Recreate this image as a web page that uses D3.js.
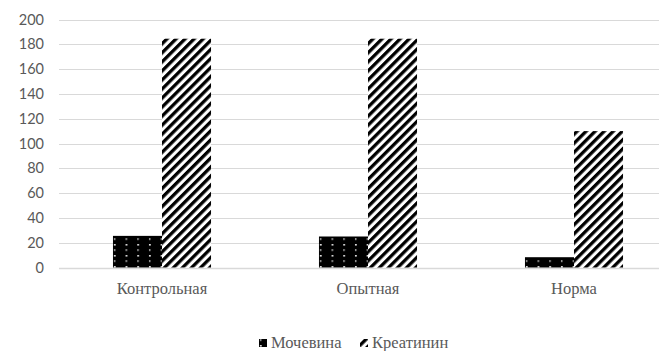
<!DOCTYPE html>
<html>
<head>
<meta charset="utf-8">
<script src="https://cdn.jsdelivr.net/npm/d3@7/dist/d3.min.js"></script>
<style>
  html, body { margin: 0; padding: 0; background: #fff; }
  svg { display: block; }
  .serif-label { font-family: Liberation Serif, Times New Roman, serif; }
  .sans-label { font-family: Lato, Open Sans, sans-serif; }
</style>
</head>
<body>
<svg id="chart" width="659" height="351"></svg>
<script>
// Data
const categories = ["Контрольная", "Опытная", "Норма"];
const seriesNames = ["Мочевина", "Креатинин"];
const urea = [25.5, 25, 8.3];
const creatinine = [184.5, 184.5, 110];
const yTicks = [0, 20, 40, 60, 80, 100, 120, 140, 160, 180, 200];

const svg = d3.select("#chart");
const plot = { left: 59, right: 677, top: 19.5, bottom: 267.5 };

// Fill patterns
const defs = svg.append("defs");
const dots = defs.append("pattern")
  .attr("id", "pat-dots").attr("patternUnits", "userSpaceOnUse")
  .attr("x", 113).attr("y", 0)
  .attr("width", 11.7).attr("height", 11);
dots.append("rect").attr("width", 11.7).attr("height", 11).attr("fill", "#000");
dots.append("rect").attr("x", 5).attr("y", 2).attr("width", 1.6).attr("height", 1.6).attr("fill", "#fff");
dots.append("rect").attr("x", 5.2).attr("y", 7).attr("width", 1).attr("height", 2.2).attr("fill", "#ddd");

const stripes = defs.append("pattern")
  .attr("id", "pat-stripes").attr("patternUnits", "userSpaceOnUse")
  .attr("width", 6.4).attr("height", 6.4)
  .attr("patternTransform", "rotate(45)");
stripes.append("rect").attr("width", 6.4).attr("height", 6.4).attr("fill", "#fff");
stripes.append("rect").attr("width", 3.3).attr("height", 6.4).attr("fill", "#000");

const fills = ["url(#pat-dots)", "url(#pat-stripes)"];
const seriesValues = [urea, creatinine];

// Scales
const y = d3.scaleLinear().domain([0, 200]).range([plot.bottom, plot.top]);
const x0 = d3.scaleBand().domain(categories).range([plot.left, plot.right])
  .paddingInner(0.524).paddingOuter(0.262);
const x1 = d3.scaleBand().domain(seriesNames).range([0, x0.bandwidth()]);

// Gridlines
svg.append("g").selectAll("line").data(yTicks).join("line")
  .attr("x1", plot.left).attr("x2", plot.right)
  .attr("y1", d => Math.round(y(d)) + 0.5).attr("y2", d => Math.round(y(d)) + 0.5)
  .attr("stroke", "#d9d9d9").attr("stroke-width", d => d === 0 ? 1.6 : 1);

// Y axis labels
const yAxis = d3.axisLeft(y).tickValues(yTicks).tickSize(0).tickPadding(0);
const ya = svg.append("g").attr("transform", `translate(44,0)`).call(yAxis)
  .attr("font-family", null).attr("font-size", null);
ya.select(".domain").remove();
ya.selectAll("text").attr("class", "sans-label")
  .style("font-size", "14.5px").attr("fill", "#595959");

// Bars
const groups = svg.append("g").selectAll("g").data(categories).join("g")
  .attr("transform", d => `translate(${x0(d)},0)`);
groups.selectAll("rect")
  .data((c, i) => seriesNames.map((s, j) => ({ s, v: seriesValues[j][i], j })))
  .join("rect")
  .attr("x", d => x1(d.s))
  .attr("width", x1.bandwidth())
  .attr("y", d => y(d.v))
  .attr("height", d => y(0) - y(d.v))
  .attr("fill", d => fills[d.j]);

// Category axis labels
const xAxis = d3.axisBottom(x0).tickSize(0).tickPadding(0);
const xa = svg.append("g").attr("transform", `translate(0,282)`).call(xAxis)
  .attr("font-family", null).attr("font-size", null);
xa.select(".domain").remove();
xa.selectAll("text").attr("class", "serif-label")
  .style("font-size", "16.5px").attr("fill", "#595959");

// Legend
const legend = svg.append("g").attr("transform", "translate(259,343)");
const legendItems = [
  { name: seriesNames[0], x: 0, fill: fills[0] },
  { name: seriesNames[1], x: 101, fill: fills[1] }
];
const li = legend.selectAll("g").data(legendItems).join("g")
  .attr("transform", d => `translate(${d.x},0)`);
li.append("rect").attr("x", 0).attr("y", -4).attr("width", 8).attr("height", 8)
  .attr("fill", d => d.fill);
li.append("text").attr("x", 12).attr("y", 5).attr("class", "serif-label")
  .style("font-size", "16.5px").attr("fill", "#595959")
  .text(d => d.name);
</script>
</body>
</html>
